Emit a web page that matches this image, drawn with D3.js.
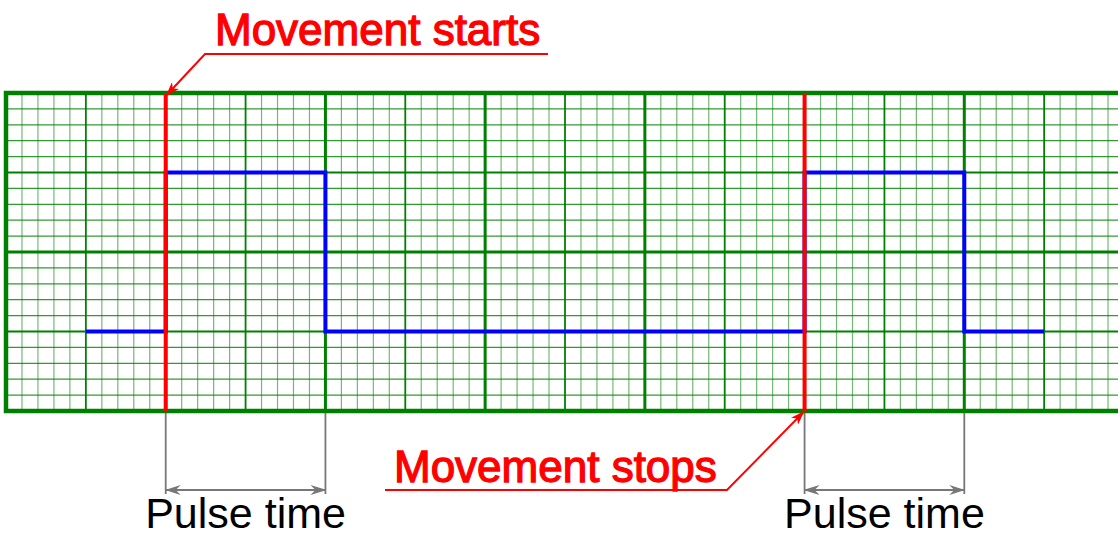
<!DOCTYPE html>
<html>
<head>
<meta charset="utf-8">
<script src="https://cdn.jsdelivr.net/npm/d3@7"></script>
<style>
  body { margin: 0; background: #fff; }
  svg { display: block; }
  text { font-family: "Liberation Sans", Arial, sans-serif; }
</style>
</head>
<body>
<svg width="1118" height="538"></svg>
<script>
const svg = d3.select('svg')

// time in grid cells, signal level in grid cells
const cellsX = 14
const cellsY = 4
const subdiv = 5
const signalT = [1, 2, 4, 10, 12, 13]
const signalV = [1, 3, 1, 3, 1, 1]
const movementStart = 2
const movementStop = 10
const pulses = [[2, 4], [10, 12]]
const startLabel = 'Movement starts'
const stopLabel = 'Movement stops'
const pulseLabel = 'Pulse time'

const x = d3.scaleLinear().domain([0, cellsX]).range([6, 1124])
const y = d3.scaleLinear().domain([0, cellsY]).range([411, 93])

const green = '#008000'
const grid = svg.append('g')

// minor lines
const minorX = d3.range(0, cellsX * subdiv + 1).map(d => d / subdiv)
const minorY = d3.range(0, cellsY * subdiv + 1).map(d => d / subdiv)

grid.selectAll('.vx').data(minorX).join('line')
    .attr('x1', d => x(d)).attr('x2', d => x(d))
    .attr('y1', y(0)).attr('y2', y(cellsY))
    .attr('stroke', green)
    .attr('stroke-width', d => d % 2 === 0 ? 3 : (Number.isInteger(d) ? 1.8 : 1.2))
    .attr('stroke-opacity', d => Number.isInteger(d) ? 1 : 0.55)

grid.selectAll('.hy').data(minorY).join('line')
    .attr('y1', d => y(d)).attr('y2', d => y(d))
    .attr('x1', x(0)).attr('x2', x(cellsX))
    .attr('stroke', green)
    .attr('stroke-width', d => d % 2 === 0 ? 3 : (Number.isInteger(d) ? 1.8 : 1.2))
    .attr('stroke-opacity', d => Number.isInteger(d) ? 1 : 0.8)

// border
grid.append('rect')
    .attr('x', x(0)).attr('y', y(cellsY))
    .attr('width', x(cellsX) - x(0)).attr('height', y(0) - y(cellsY))
    .attr('fill', 'none')
    .attr('stroke', green)
    .attr('stroke-width', 4.5)

// signal
const line = d3.line()
    .x((d, i) => x(signalT[i]))
    .y(d => y(d))
    .curve(d3.curveStepAfter)

svg.append('path')
    .attr('d', line(signalV))
    .attr('fill', 'none')
    .attr('stroke', '#0000ff')
    .attr('stroke-width', 4)

// movement markers
svg.selectAll('.ev').data([movementStart, movementStop]).join('line')
    .attr('x1', d => x(d)).attr('x2', d => x(d))
    .attr('y1', y(0)).attr('y2', y(cellsY))
    .attr('stroke', '#ff0000')
    .attr('stroke-width', 4)

const defs = svg.append('defs')
defs.append('marker')
    .attr('id', 'redArrow')
    .attr('viewBox', '0 0 14 10')
    .attr('refX', 13).attr('refY', 5)
    .attr('markerWidth', 14).attr('markerHeight', 10)
    .attr('markerUnits', 'userSpaceOnUse')
    .attr('orient', 'auto')
    .append('path')
    .attr('d', 'M0,0 L14,5 L0,10 L4,5 Z')
    .attr('fill', '#ff0000')

defs.append('marker')
    .attr('id', 'grayArrow')
    .attr('viewBox', '0 0 16 10')
    .attr('refX', 15).attr('refY', 5)
    .attr('markerWidth', 16).attr('markerHeight', 10)
    .attr('markerUnits', 'userSpaceOnUse')
    .attr('orient', 'auto-start-reverse')
    .append('path')
    .attr('d', 'M0,0 L16,5 L0,10 L5,5 Z')
    .attr('fill', '#777777')

// "Movement starts" callout
svg.append('text')
    .attr('x', 215).attr('y', 45)
    .attr('font-size', 44)
    .attr('fill', '#ff0000')
    .attr('stroke', '#ff0000')
    .attr('stroke-width', 1.3)
    .text(startLabel)

svg.append('path')
    .attr('d', `M548,54 L205,54 L${x(movementStart) + 1},${y(cellsY) + 2}`)
    .attr('fill', 'none')
    .attr('stroke', '#ff0000')
    .attr('stroke-width', 2)
    .attr('marker-end', 'url(#redArrow)')

// "Movement stops" callout
svg.append('text')
    .attr('x', 394).attr('y', 482)
    .attr('font-size', 44)
    .attr('fill', '#ff0000')
    .attr('stroke', '#ff0000')
    .attr('stroke-width', 1.3)
    .text(stopLabel)

svg.append('path')
    .attr('d', `M385,490 L727,490 L${x(movementStop) - 1},${y(0) + 1}`)
    .attr('fill', 'none')
    .attr('stroke', '#ff0000')
    .attr('stroke-width', 2)
    .attr('marker-end', 'url(#redArrow)')

// pulse time dimensions
const pg = svg.selectAll('.pulse').data(pulses).join('g')

pg.selectAll('.ext').data(d => d).join('line')
    .attr('x1', d => x(d)).attr('x2', d => x(d))
    .attr('y1', y(0) + 2).attr('y2', 494)
    .attr('stroke', '#777777')
    .attr('stroke-width', 1.8)

pg.append('line')
    .attr('x1', d => x(d[0])).attr('x2', d => x(d[1]))
    .attr('y1', 490).attr('y2', 490)
    .attr('stroke', '#777777')
    .attr('stroke-width', 2.2)
    .attr('marker-start', 'url(#grayArrow)')
    .attr('marker-end', 'url(#grayArrow)')

pg.append('text')
    .attr('x', d => (x(d[0]) + x(d[1])) / 2)
    .attr('y', 528)
    .attr('text-anchor', 'middle')
    .attr('font-size', 43)
    .attr('fill', '#000')
    .text(pulseLabel)
</script>
</body>
</html>
